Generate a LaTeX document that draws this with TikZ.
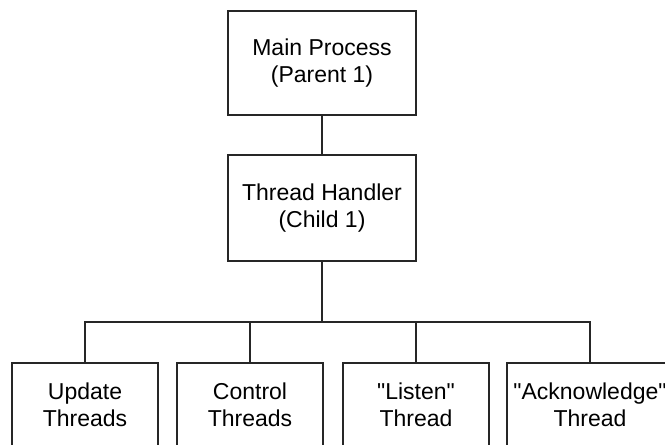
\documentclass[tikz,border=0pt]{standalone}
\usepackage{fontspec}
\setmainfont{Liberation Sans}
\newcommand{\sq}{\textquotedbl}
\begin{document}
\begin{tikzpicture}[x=1pt,y=-1pt,
  box/.style={draw=black!85, line width=1.2pt, align=center, inner sep=0pt,
    font=\fontsize{23}{27}\selectfont},
  link/.style={draw=black!85, line width=1.2pt}]
\useasboundingbox (0,0) rectangle (665,445);

% upper two levels
\node[box, minimum width=188, minimum height=104] (main) at (322,63)
  {Main Process\\(Parent 1)};
\node[box, minimum width=188, minimum height=106] (th) at (322,208)
  {Thread Handler\\(Child 1)};

% thread boxes, running off the lower edge
\node[box, minimum width=146, minimum height=84] (upd) at (85,405)
  {Update\\Threads};
\node[box, minimum width=146, minimum height=84] (ctl) at (250,405)
  {Control\\Threads};
\node[box, minimum width=146, minimum height=84] (lst) at (416,405)
  {\sq Listen\sq\\Thread};
\node[box, minimum width=166, minimum height=84] (ack) at (590,405)
  {\sq Acknowledge\sq\\Thread};

% connectors
\coordinate (bus) at (322,322);
\draw[link] (main.south) -- (th.north);
\draw[link] (th.south) -- (bus);
\draw[link] (upd.north) |- (bus) -| (ack.north);
\draw[link] (ctl.north) -- (ctl.north |- bus);
\draw[link] (lst.north) -- (lst.north |- bus);
\end{tikzpicture}
\end{document}
